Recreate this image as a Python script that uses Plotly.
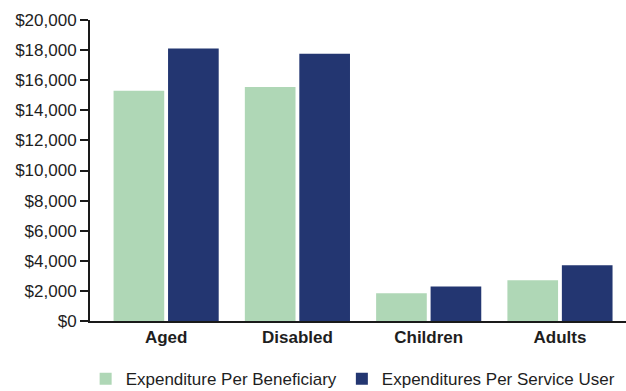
import plotly.graph_objects as go

categories = ["Aged", "Disabled", "Children", "Adults"]
per_beneficiary = [15300, 15550, 1850, 2700]
per_service_user = [18100, 17750, 2300, 3700]
tick_values = [0, 2000, 4000, 6000, 8000, 10000, 12000, 14000, 16000, 18000, 20000]
tick_labels = ["$0", "$2,000", "$4,000", "$6,000", "$8,000", "$10,000",
               "$12,000", "$14,000", "$16,000", "$18,000", "$20,000"]

font_family = "Liberation Sans, Arial, Helvetica, sans-serif"
text_color = "#1e1e1e"

fig = go.Figure()
fig.add_trace(go.Bar(
    x=categories, y=per_beneficiary, name="Expenditure Per Beneficiary",
    marker=dict(color="#afd7b6", line=dict(width=0)),
))
fig.add_trace(go.Bar(
    x=categories, y=per_service_user, name="Expenditures Per Service User",
    marker=dict(color="#233671", line=dict(width=0)),
))

fig.update_layout(
    width=626, height=391,
    margin=dict(l=90, r=0, t=20, b=70),
    paper_bgcolor="white", plot_bgcolor="white",
    barmode="group", bargap=0.17, bargroupgap=0.07,
    font=dict(family=font_family, size=17, color=text_color),
    showlegend=True,
    legend=dict(
        orientation="h", xref="paper", x=0.49, xanchor="center",
        yref="container", y=0.03, yanchor="middle",
        font=dict(size=17, color=text_color), itemwidth=30,
        tracegroupgap=0,
    ),
    xaxis=dict(
        type="category", range=[-0.58, 3.503], automargin=False,
        showline=True, linecolor="#1a1a1a", linewidth=2,
        ticks="", showgrid=False,
        tickfont=dict(size=17, color=text_color),
        tickprefix="<b>", ticksuffix="</b>",
    ),
    yaxis=dict(
        range=[0, 20000], tickvals=tick_values, ticktext=tick_labels,
        automargin=False,
        showline=True, linecolor="#1a1a1a", linewidth=2,
        ticks="outside", ticklen=8, tickwidth=2, tickcolor="#1a1a1a",
        showgrid=False, zeroline=False,
        tickfont=dict(size=17, color=text_color),
    ),
)

fig.write_html("out.html")
